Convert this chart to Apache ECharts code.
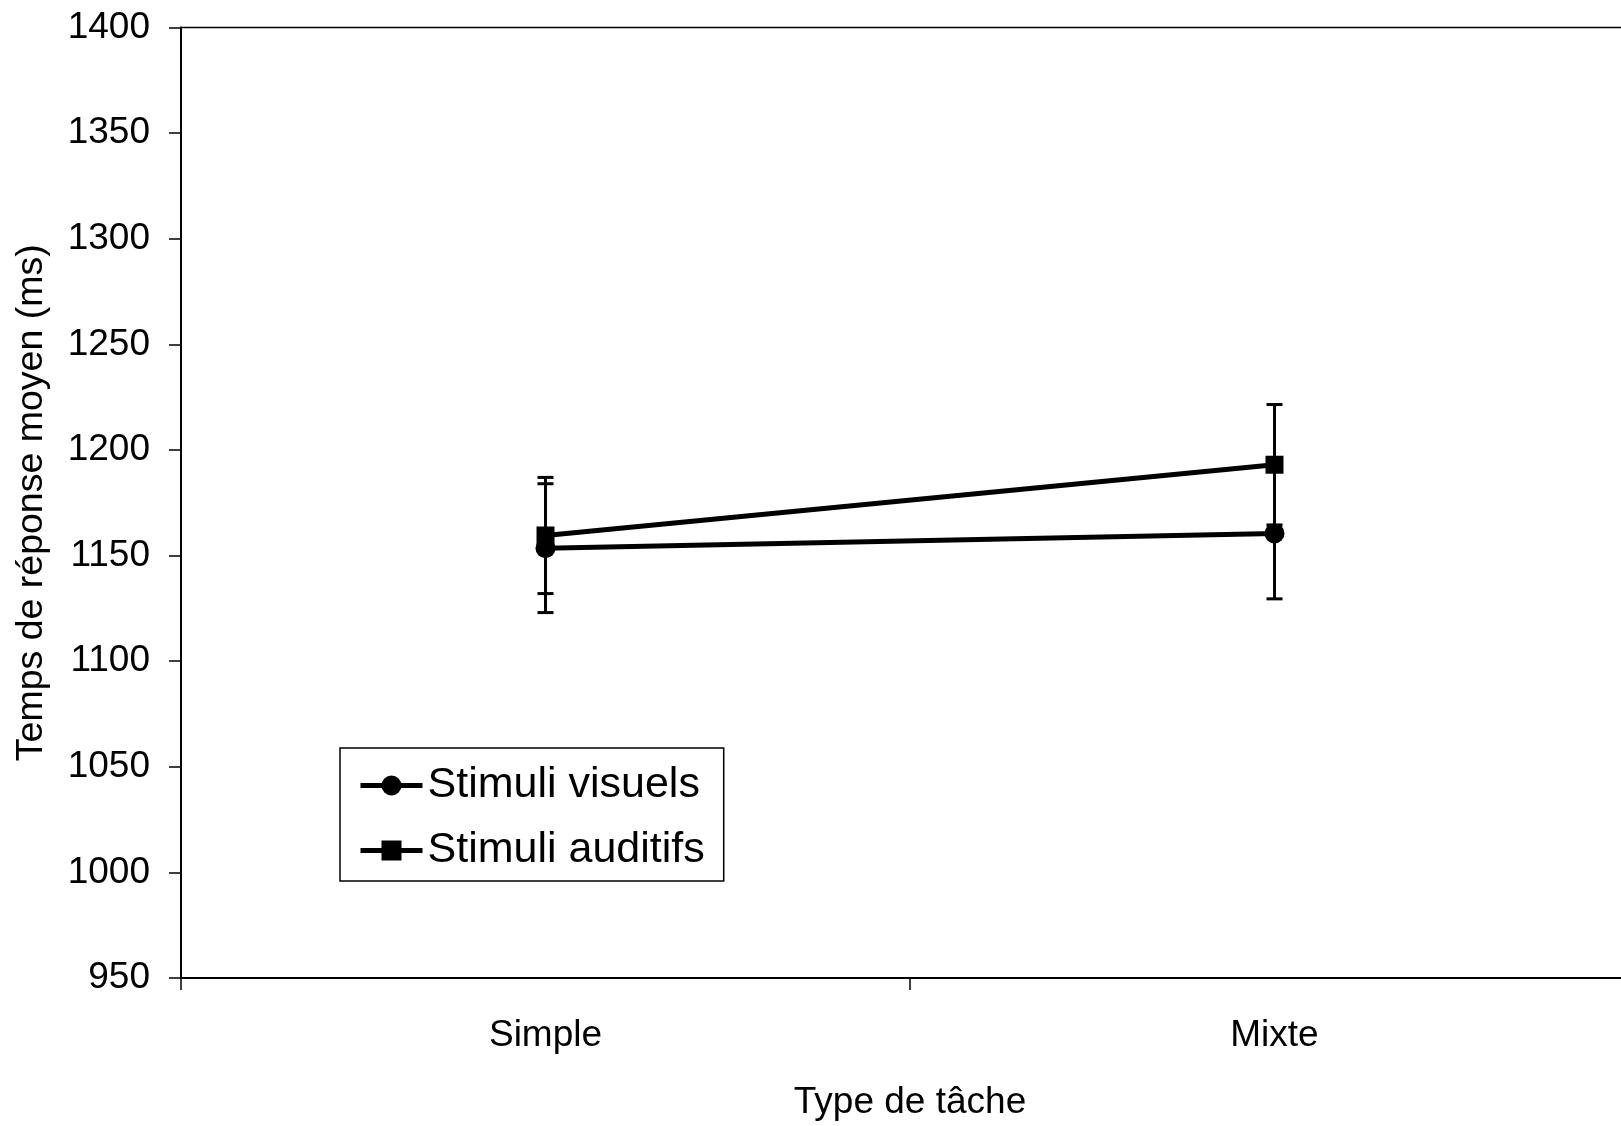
<!DOCTYPE html>
<html>
<head>
<meta charset="utf-8">
<script src="https://cdn.jsdelivr.net/npm/echarts@6/dist/echarts.min.js"></script>
<style>
html,body{margin:0;padding:0;background:#fff;}
#chart{width:1621px;height:1126px;}
</style>
</head>
<body>
<div id="chart"></div>
<script>
const categories = ['Simple', 'Mixte'];
const visuels = [1153.5, 1160.5];
const visuelsErr = [30.5, 31];
const auditifs = [1159.5, 1193];
const auditifsErr = [27.5, 28.5];
const yTicks = { min: 950, max: 1400, interval: 50 };

const FONT = '"Liberation Sans", Arial, Helvetica, sans-serif';

function errData(vals, errs) {
  return vals.map((v, i) => [i, v - errs[i], v + errs[i]]);
}

function errRender(params, api) {
  const x = api.value(0);
  const lo = api.coord([x, api.value(1)]);
  const hi = api.coord([x, api.value(2)]);
  const hw = 8;
  const style = { stroke: '#000', lineWidth: 3 };
  return {
    type: 'group',
    children: [
      { type: 'line', shape: { x1: hi[0], y1: hi[1], x2: lo[0], y2: lo[1] }, style },
      { type: 'line', shape: { x1: hi[0] - hw, y1: hi[1], x2: hi[0] + hw, y2: hi[1] }, style },
      { type: 'line', shape: { x1: lo[0] - hw, y1: lo[1], x2: lo[0] + hw, y2: lo[1] }, style }
    ]
  };
}

const chart = echarts.init(document.getElementById('chart'), null, { renderer: 'canvas' });
chart.setOption({
  backgroundColor: '#fff',
  animation: false,
  textStyle: { fontFamily: FONT, color: '#000' },
  grid: {
    left: 181, top: 27.5, width: 1458, height: 950.5,
    outerBoundsMode: 'none',
    containLabel: false,
    show: true, borderColor: '#000', borderWidth: 1.5, backgroundColor: 'transparent'
  },
  legend: {
    left: 340, top: 748,
    orient: 'vertical',
    data: ['Stimuli visuels', 'Stimuli auditifs'],
    itemWidth: 62, itemHeight: 25, itemGap: 22,
    padding: [16, 19, 9, 18],
    lineStyle: { width: 5, color: '#000' },
    borderColor: '#000', borderWidth: 1.5, backgroundColor: '#fff',
    textStyle: { fontFamily: FONT, fontSize: 43, color: '#000' }
  },
  xAxis: {
    type: 'category',
    data: categories,
    boundaryGap: true,
    axisLine: { lineStyle: { color: '#000', width: 2 } },
    axisTick: { show: true, length: 12, inside: false, lineStyle: { color: '#000', width: 1.5 } },
    axisLabel: { margin: 39, fontSize: 37, color: '#000', fontFamily: FONT },
    name: 'Type de tâche',
    nameLocation: 'middle',
    nameGap: 106,
    nameTextStyle: { fontSize: 37, color: '#000', fontFamily: FONT }
  },
  yAxis: {
    type: 'value',
    min: yTicks.min, max: yTicks.max, interval: yTicks.interval,
    axisLine: { show: true, lineStyle: { color: '#000', width: 2 } },
    axisTick: { show: true, length: 12, lineStyle: { color: '#000', width: 1.5 } },
    splitLine: { show: false },
    axisLabel: { margin: 31, fontSize: 37, color: '#000', fontFamily: FONT, formatter: v => String(v) },
    name: 'Temps de réponse moyen (ms)',
    nameLocation: 'middle',
    nameGap: 130,
    nameRotate: 90,
    nameTextStyle: { fontSize: 37.5, color: '#000', fontFamily: FONT }
  },
  series: [
    {
      name: 'Stimuli visuels', type: 'line', data: visuels,
      symbol: 'circle', symbolSize: 20,
      lineStyle: { color: '#000', width: 5 }, itemStyle: { color: '#000' }, z: 3
    },
    {
      name: 'Stimuli auditifs', type: 'line', data: auditifs,
      symbol: 'rect', symbolSize: 18,
      lineStyle: { color: '#000', width: 5 }, itemStyle: { color: '#000' }, z: 3
    },
    {
      name: 'err-visuels', type: 'custom', data: errData(visuels, visuelsErr),
      renderItem: errRender, encode: { x: 0, y: [1, 2] }, z: 4
    },
    {
      name: 'err-auditifs', type: 'custom', data: errData(auditifs, auditifsErr),
      renderItem: errRender, encode: { x: 0, y: [1, 2] }, z: 4
    }
  ]
});
</script>
</body>
</html>
